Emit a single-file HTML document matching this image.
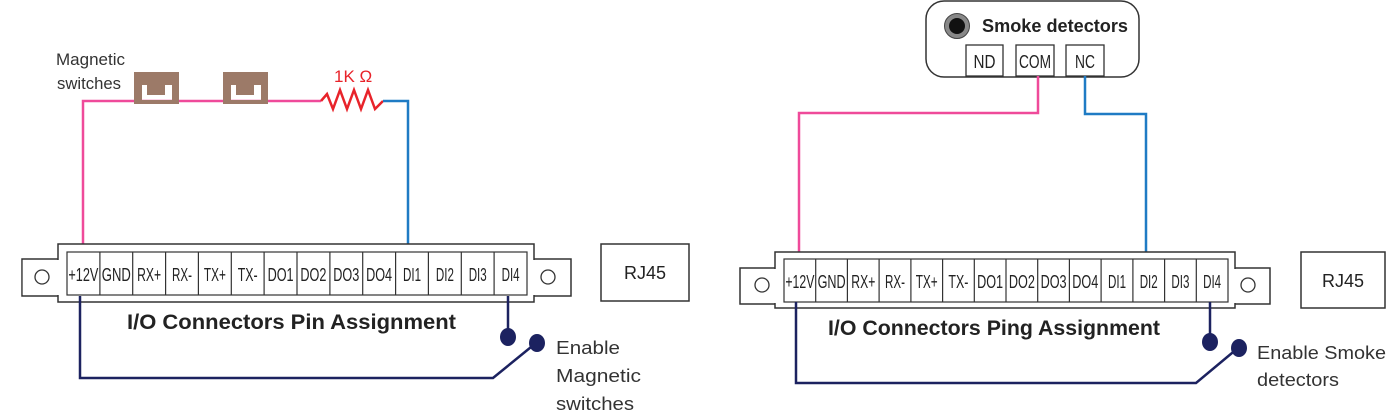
<!DOCTYPE html>
<html><head><meta charset="utf-8"><style>
html,body{margin:0;padding:0;background:#fff;}
svg{display:block;font-family:"Liberation Sans",sans-serif;}
.pin{font-size:18px;fill:#222;}
</style></head><body>
<svg width="1386" height="417" viewBox="0 0 1386 417" xmlns="http://www.w3.org/2000/svg">
<!-- LEFT -->
<text x="56" y="65" font-size="17" fill="#333" textLength="69" lengthAdjust="spacingAndGlyphs">Magnetic</text>
<text x="57" y="89" font-size="17" fill="#333" textLength="64" lengthAdjust="spacingAndGlyphs">switches</text>
<polyline points="83,253 83,101 321,101" fill="none" stroke="#ef4a9a" stroke-width="2.5"/>
<g fill="#9c7a68">
<path d="M134,72H179V104H134Z M142,85H147V95H165V85H172V100H142Z" fill-rule="evenodd"/>
<path d="M223,72H268V104H223Z M231,85H236V95H254V85H261V100H231Z" fill-rule="evenodd"/>
</g>
<polyline points="321,101 327,94 333,109 340,90 347,109 354,90 361,109 368,90 375,109 383,101" fill="none" stroke="#e8232a" stroke-width="2.5"/>
<text x="334" y="82" font-size="17" fill="#e8232a">1K Ω</text>
<polyline points="383,101 408,101 408,253" fill="none" stroke="#1f7bc4" stroke-width="2.5"/>
<rect x="22" y="259" width="549" height="37" fill="#fff" stroke="#333" stroke-width="1.5"/>
<rect x="58" y="244" width="476" height="58" fill="#fff" stroke="#333" stroke-width="1.5"/>
<rect x="22.8" y="260" width="40" height="35" fill="#fff"/>
<rect x="530" y="260" width="40" height="35" fill="#fff"/>
<circle cx="42" cy="277" r="7" fill="none" stroke="#333" stroke-width="1.3"/>
<circle cx="548" cy="277" r="7" fill="none" stroke="#333" stroke-width="1.3"/>
<rect x="67" y="252" width="460" height="43" fill="#fff" stroke="#333" stroke-width="1.2"/>
<g stroke="#333" stroke-width="1.2">
<line x1="99.9" y1="252" x2="99.9" y2="295"/><line x1="132.7" y1="252" x2="132.7" y2="295"/>
<line x1="165.6" y1="252" x2="165.6" y2="295"/><line x1="198.4" y1="252" x2="198.4" y2="295"/>
<line x1="231.3" y1="252" x2="231.3" y2="295"/><line x1="264.1" y1="252" x2="264.1" y2="295"/>
<line x1="297" y1="252" x2="297" y2="295"/><line x1="329.9" y1="252" x2="329.9" y2="295"/>
<line x1="362.7" y1="252" x2="362.7" y2="295"/><line x1="395.6" y1="252" x2="395.6" y2="295"/>
<line x1="428.4" y1="252" x2="428.4" y2="295"/><line x1="461.3" y1="252" x2="461.3" y2="295"/>
<line x1="494.1" y1="252" x2="494.1" y2="295"/>
</g>
<g class="pin" text-anchor="middle">
<text x="83.4" y="281" textLength="30" lengthAdjust="spacingAndGlyphs">+12V</text>
<text x="116.3" y="281" textLength="29" lengthAdjust="spacingAndGlyphs">GND</text>
<text x="149.1" y="281" textLength="24" lengthAdjust="spacingAndGlyphs">RX+</text>
<text x="182" y="281" textLength="20" lengthAdjust="spacingAndGlyphs">RX-</text>
<text x="214.9" y="281" textLength="22" lengthAdjust="spacingAndGlyphs">TX+</text>
<text x="247.7" y="281" textLength="20" lengthAdjust="spacingAndGlyphs">TX-</text>
<text x="280.6" y="281" textLength="26" lengthAdjust="spacingAndGlyphs">DO1</text>
<text x="313.4" y="281" textLength="26" lengthAdjust="spacingAndGlyphs">DO2</text>
<text x="346.3" y="281" textLength="26" lengthAdjust="spacingAndGlyphs">DO3</text>
<text x="379.1" y="281" textLength="26" lengthAdjust="spacingAndGlyphs">DO4</text>
<text x="412" y="281" textLength="18" lengthAdjust="spacingAndGlyphs">DI1</text>
<text x="444.9" y="281" textLength="18" lengthAdjust="spacingAndGlyphs">DI2</text>
<text x="477.7" y="281" textLength="18" lengthAdjust="spacingAndGlyphs">DI3</text>
<text x="510.6" y="281" textLength="18" lengthAdjust="spacingAndGlyphs">DI4</text>
</g>
<rect x="601" y="244" width="88" height="57" fill="#fff" stroke="#333" stroke-width="1.5"/>
<text x="645" y="279" font-size="18" fill="#222" text-anchor="middle">RJ45</text>
<text x="127" y="329" font-size="21" font-weight="bold" fill="#222" textLength="329" lengthAdjust="spacingAndGlyphs">I/O Connectors Pin Assignment</text>
<polyline points="80,296 80,378 493,378 536,343" fill="none" stroke="#1c2260" stroke-width="2.5"/>
<line x1="508" y1="296" x2="508" y2="337" stroke="#1c2260" stroke-width="2.5"/>
<ellipse cx="508" cy="337" rx="8" ry="9" fill="#1c2260"/>
<ellipse cx="537" cy="343" rx="8" ry="9" fill="#1c2260"/>
<text x="556" y="354" font-size="18" fill="#333" textLength="64" lengthAdjust="spacingAndGlyphs">Enable</text>
<text x="556" y="382" font-size="18" fill="#333" textLength="85" lengthAdjust="spacingAndGlyphs">Magnetic</text>
<text x="556" y="410" font-size="18" fill="#333" textLength="78" lengthAdjust="spacingAndGlyphs">switches</text>

<!-- RIGHT -->
<rect x="926" y="1" width="213" height="76" rx="18" fill="#fff" stroke="#333" stroke-width="1.5"/>
<circle cx="957" cy="26" r="12.5" fill="#888" stroke="#444" stroke-width="1"/>
<circle cx="957" cy="26" r="8" fill="#111"/>
<text x="982" y="32" font-size="18" font-weight="bold" fill="#222" textLength="146" lengthAdjust="spacingAndGlyphs">Smoke detectors</text>
<g stroke="#333" stroke-width="1.3" fill="#fff">
<rect x="966" y="45" width="37" height="31"/>
<rect x="1016" y="45" width="38" height="31"/>
<rect x="1066" y="45" width="38" height="31"/>
</g>
<g class="pin" text-anchor="middle" font-size="17">
<text x="984.5" y="68" textLength="22" lengthAdjust="spacingAndGlyphs">ND</text>
<text x="1035" y="68" textLength="32" lengthAdjust="spacingAndGlyphs">COM</text>
<text x="1085" y="68" textLength="20" lengthAdjust="spacingAndGlyphs">NC</text>
</g>
<polyline points="1038,76 1038,113 799,113 799,259" fill="none" stroke="#ef4a9a" stroke-width="2.5"/>
<polyline points="1085,76 1085,114 1146,114 1146,259" fill="none" stroke="#1f7bc4" stroke-width="2.5"/>
<rect x="740" y="268" width="530" height="36" fill="#fff" stroke="#333" stroke-width="1.5"/>
<rect x="775" y="252" width="460" height="56" fill="#fff" stroke="#333" stroke-width="1.5"/>
<rect x="741" y="269" width="38" height="34" fill="#fff"/>
<rect x="1231" y="269" width="38" height="34" fill="#fff"/>
<circle cx="762" cy="285" r="7" fill="none" stroke="#333" stroke-width="1.3"/>
<circle cx="1248" cy="285" r="7" fill="none" stroke="#333" stroke-width="1.3"/>
<rect x="784" y="259" width="444" height="43" fill="#fff" stroke="#333" stroke-width="1.2"/>
<g stroke="#333" stroke-width="1.2">
<line x1="815.7" y1="259" x2="815.7" y2="302"/><line x1="847.4" y1="259" x2="847.4" y2="302"/>
<line x1="879.1" y1="259" x2="879.1" y2="302"/><line x1="910.9" y1="259" x2="910.9" y2="302"/>
<line x1="942.6" y1="259" x2="942.6" y2="302"/><line x1="974.3" y1="259" x2="974.3" y2="302"/>
<line x1="1006" y1="259" x2="1006" y2="302"/><line x1="1037.7" y1="259" x2="1037.7" y2="302"/>
<line x1="1069.4" y1="259" x2="1069.4" y2="302"/><line x1="1101.1" y1="259" x2="1101.1" y2="302"/>
<line x1="1132.9" y1="259" x2="1132.9" y2="302"/><line x1="1164.6" y1="259" x2="1164.6" y2="302"/>
<line x1="1196.3" y1="259" x2="1196.3" y2="302"/>
</g>
<g class="pin" text-anchor="middle">
<text x="799.9" y="288" textLength="29" lengthAdjust="spacingAndGlyphs">+12V</text>
<text x="831.6" y="288" textLength="28" lengthAdjust="spacingAndGlyphs">GND</text>
<text x="863.3" y="288" textLength="24" lengthAdjust="spacingAndGlyphs">RX+</text>
<text x="895" y="288" textLength="20" lengthAdjust="spacingAndGlyphs">RX-</text>
<text x="926.7" y="288" textLength="22" lengthAdjust="spacingAndGlyphs">TX+</text>
<text x="958.4" y="288" textLength="20" lengthAdjust="spacingAndGlyphs">TX-</text>
<text x="990.1" y="288" textLength="26" lengthAdjust="spacingAndGlyphs">DO1</text>
<text x="1021.9" y="288" textLength="26" lengthAdjust="spacingAndGlyphs">DO2</text>
<text x="1053.6" y="288" textLength="26" lengthAdjust="spacingAndGlyphs">DO3</text>
<text x="1085.3" y="288" textLength="26" lengthAdjust="spacingAndGlyphs">DO4</text>
<text x="1117" y="288" textLength="18" lengthAdjust="spacingAndGlyphs">DI1</text>
<text x="1148.7" y="288" textLength="18" lengthAdjust="spacingAndGlyphs">DI2</text>
<text x="1180.4" y="288" textLength="18" lengthAdjust="spacingAndGlyphs">DI3</text>
<text x="1212.1" y="288" textLength="18" lengthAdjust="spacingAndGlyphs">DI4</text>
</g>
<rect x="1301" y="252" width="84" height="56" fill="#fff" stroke="#333" stroke-width="1.5"/>
<text x="1343" y="287" font-size="18" fill="#222" text-anchor="middle">RJ45</text>
<text x="828" y="335" font-size="21" font-weight="bold" fill="#222" textLength="332" lengthAdjust="spacingAndGlyphs">I/O Connectors Ping Assignment</text>
<polyline points="796,302 796,383 1196,383 1238,348" fill="none" stroke="#1c2260" stroke-width="2.5"/>
<line x1="1210" y1="302" x2="1210" y2="342" stroke="#1c2260" stroke-width="2.5"/>
<ellipse cx="1210" cy="342" rx="8" ry="9" fill="#1c2260"/>
<ellipse cx="1239" cy="348" rx="8" ry="9" fill="#1c2260"/>
<text x="1257" y="359" font-size="18" fill="#333" textLength="129" lengthAdjust="spacingAndGlyphs">Enable Smoke</text>
<text x="1257" y="386" font-size="18" fill="#333" textLength="82" lengthAdjust="spacingAndGlyphs">detectors</text>
</svg>
</body></html>
